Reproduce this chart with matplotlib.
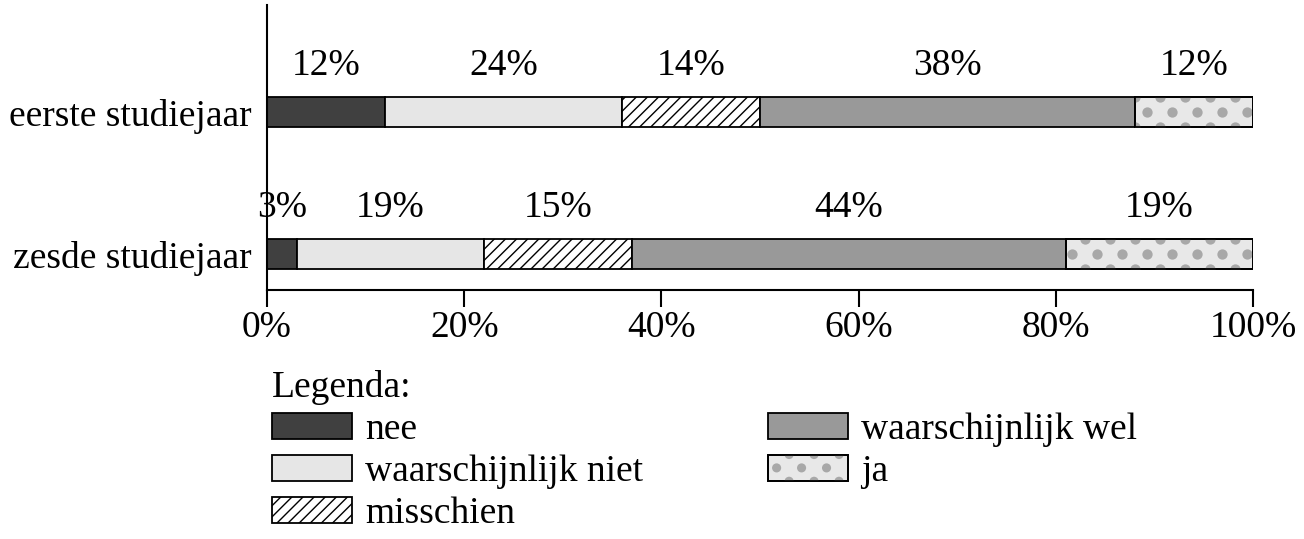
import numpy as np
import matplotlib
matplotlib.use("Agg")
import matplotlib.pyplot as plt
from matplotlib.patches import Patch, Rectangle, Circle
from matplotlib.legend_handler import HandlerPatch

plt.rcParams['font.family'] = ['Liberation Serif', 'DejaVu Serif']

# data
groups = ['eerste studiejaar', 'zesde studiejaar']
categories = ['nee', 'waarschijnlijk niet', 'misschien', 'waarschijnlijk wel', 'ja']
eerste = [12, 24, 14, 38, 12]
zesde = [3, 19, 15, 44, 19]
values = [eerste, zesde]
xticks = [0, 20, 40, 60, 80, 100]

facecolors = ['#404040', '#e6e6e6', 'white', '#999999', '#e8e8e8']
hatches = [None, None, '///', None, None]
dot_color = '#a8a8a8'

FS = 27
fig = plt.figure(figsize=(13.04, 5.39), dpi=100)
ax = fig.add_axes([267 / 1304, 1 - 290 / 539, 986 / 1304, 285 / 539])

ypos = [1, 0]
bar_h = 0.211
plt.rcParams['hatch.linewidth'] = 1.0

for yi, vals in zip(ypos, values):
    left = 0
    for i, v in enumerate(vals):
        ax.barh(yi, v, left=left, height=bar_h, color=facecolors[i],
                hatch=hatches[i], edgecolor='black', linewidth=1.3, zorder=2)
        if categories[i] == 'ja':
            # dotted texture clipped to the bar
            clip = Rectangle((left, yi - bar_h / 2), v, bar_h,
                             transform=ax.transData)
            dx = 2.535
            dy = bar_h / 2
            xs, ys = [], []
            for r, yy in enumerate([yi - dy, yi, yi + dy]):
                off = 0 if r == 1 else dx / 2
                for xx in np.arange(100 - 0.6 - off, left - dx, -dx):
                    xs.append(xx)
                    ys.append(yy)
            sc = ax.scatter(xs, ys, s=55, color=dot_color, linewidths=0, zorder=3)
            sc.set_clip_path(clip)
            ax.barh(yi, v, left=left, height=bar_h, color='none',
                    edgecolor='black', linewidth=1.3, zorder=4)
        ax.text(left + v / 2, yi + bar_h / 2 + 0.1, f'{v}%', ha='center',
                va='bottom', fontsize=FS)
        left += v

ax.set_xlim(0, 100)
ax.set_ylim(-0.2535, 1.754)
ax.set_xticks(xticks)
ax.set_xticklabels([f'{t}%' for t in xticks], fontsize=FS)
ax.set_yticks(ypos)
ax.set_yticklabels(groups, fontsize=FS)
ax.tick_params(axis='y', length=0, pad=11)
ax.tick_params(axis='x', length=12, width=1.5, pad=3, direction='out')
ax.spines['top'].set_visible(False)
ax.spines['right'].set_visible(False)
for s in ['left', 'bottom']:
    ax.spines[s].set_linewidth(1.5)


class DotHandler(HandlerPatch):
    def create_artists(self, legend, orig_handle, xdescent, ydescent,
                       width, height, fontsize, trans):
        rect = Rectangle((-xdescent, -ydescent), width, height,
                         facecolor='#e8e8e8', edgecolor='black', linewidth=1.3,
                         transform=trans)
        arts = [rect]
        sp = width / 3.2
        for r, yy in enumerate([0, height / 2, height]):
            off = sp / 2 if r != 1 else 0
            xx = -xdescent + sp * 0.35 + off
            while xx < width:
                c = Circle((xx, yy - ydescent), height * 0.17,
                           facecolor=dot_color, edgecolor='none', transform=trans)
                c.set_clip_path(rect)
                arts.append(c)
                xx += sp
        border = Rectangle((-xdescent, -ydescent), width, height,
                           facecolor='none', edgecolor='black', linewidth=1.3,
                           transform=trans)
        arts.append(border)
        return arts


handles = []
for i, c in enumerate(categories):
    handles.append(Patch(facecolor=facecolors[i], hatch=hatches[i],
                         edgecolor='black', linewidth=1.3, label=c))

leg = fig.legend(handles=handles, ncol=2, loc='upper left',
                 bbox_to_anchor=(272 / 1304, 1 - 370 / 539),
                 title='Legenda:', title_fontsize=FS, fontsize=FS,
                 frameon=False, handlelength=2.13, handleheight=0.72,
                 handletextpad=0.35, columnspacing=3.33, labelspacing=0.2,
                 borderaxespad=0, borderpad=0,
                 handler_map={handles[4]: DotHandler()})
leg._legend_box.align = 'left'

fig.savefig('out.png', dpi=100)
